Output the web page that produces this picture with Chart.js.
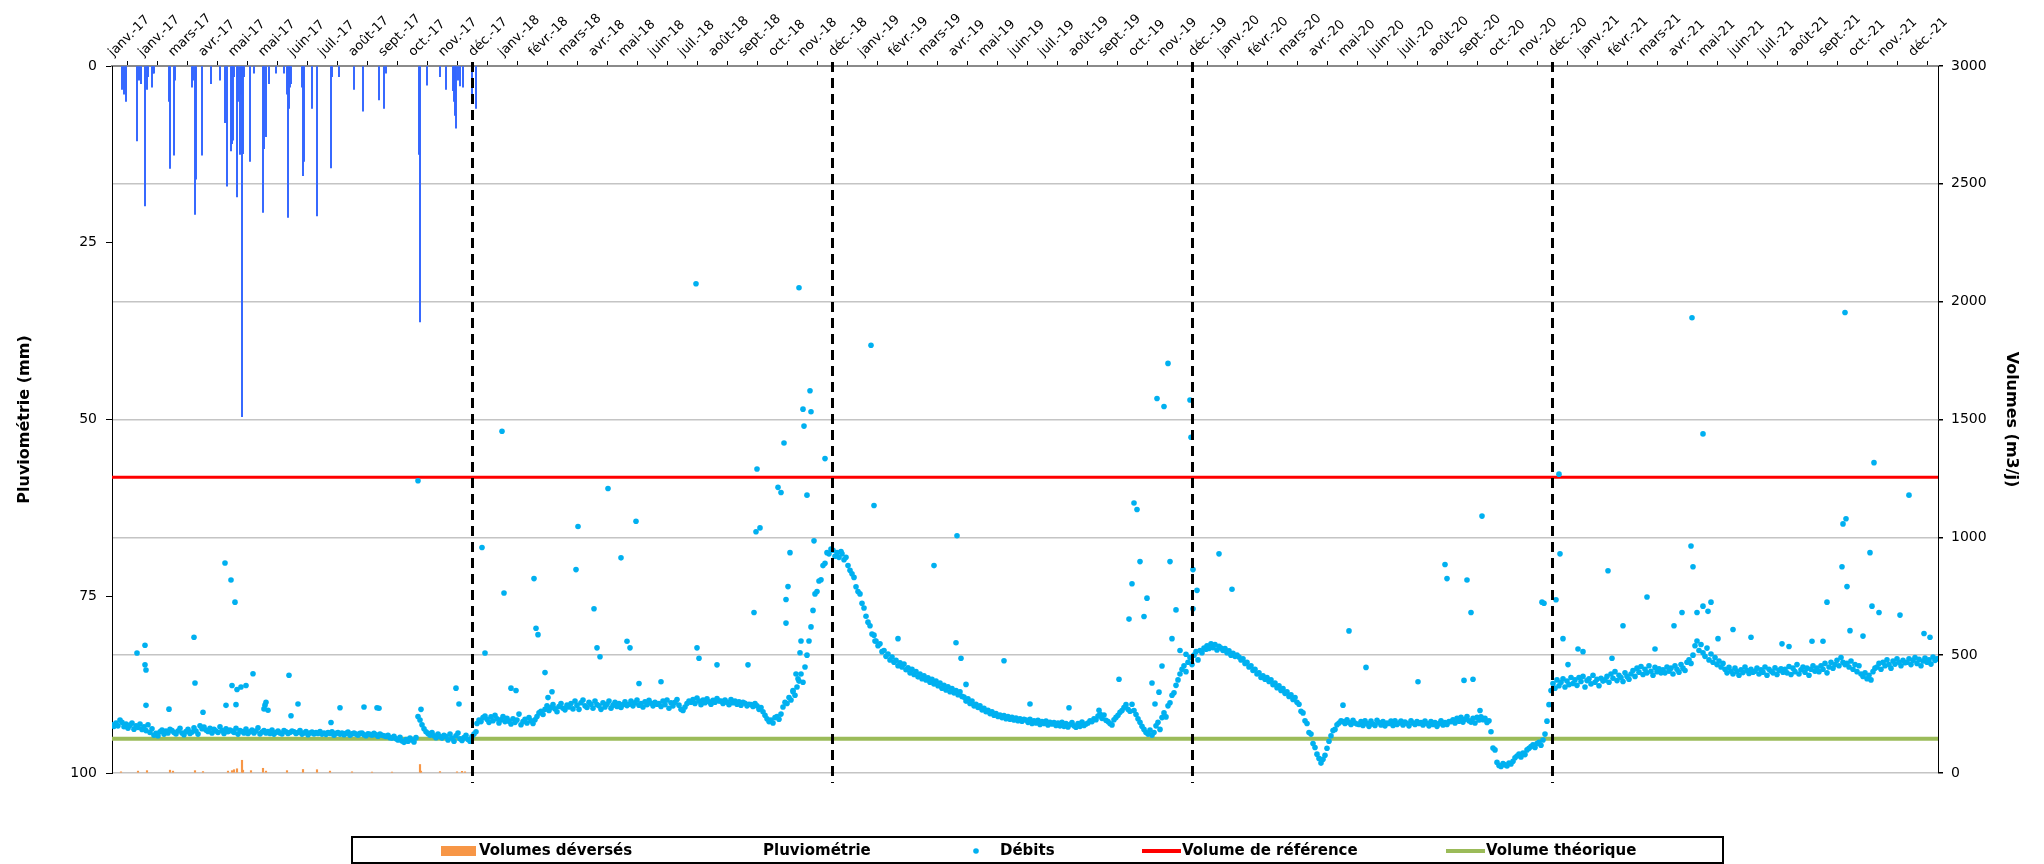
<!DOCTYPE html>
<html><head><meta charset="utf-8">
<script src="https://cdn.jsdelivr.net/npm/chart.js@4.4.1/dist/chart.umd.min.js"></script>
<style>html,body{margin:0;padding:0;background:#fff}#wrap{position:relative;width:2044px;height:864px}</style>
</head><body><div id="wrap"><canvas id="c"></canvas></div>
<script>
// ---------- DONNÉES ----------
const etiquettesMois = ['janv.-17','janv.-17','mars-17','avr.-17','mai-17','mai-17','juin-17','juil.-17','août-17','sept.-17','oct.-17','nov.-17','déc.-17',
'janv.-18','févr.-18','mars-18','avr.-18','mai-18','juin-18','juil.-18','août-18','sept.-18','oct.-18','nov.-18','déc.-18',
'janv.-19','févr.-19','mars-19','avr.-19','mai-19','juin-19','juil.-19','août-19','sept.-19','oct.-19','nov.-19','déc.-19',
'janv.-20','févr.-20','mars-20','avr.-20','mai-20','juin-20','juil.-20','août-20','sept.-20','oct.-20','nov.-20','déc.-20',
'janv.-21','févr.-21','mars-21','avr.-21','mai-21','juin-21','juil.-21','août-21','sept.-21','oct.-21','nov.-21','déc.-21'];
const pasTicksJours = 30;
const joursMax = 1826;
const separateursJours = [360, 720, 1080, 1440];

const volumeReference = 1255;
const volumeTheorique = 145;

// Débits journaliers (m3/j), un relevé tous les 2 jours à partir du début de chaque année
const debutAnnees = [0, 365, 730, 1095, 1461];
const debits2017 = [205,198,212,200,225,215,196,208,190,203,212,186,200,193,208,185,
196,180,205,172,188,160,168,158,175,182,165,178,170,185,
180,172,166,178,190,170,162,176,185,168,174,192,178,165,200,188,
195,182,176,190,170,185,178,172,196,180,168,188,175,182,
178,172,190,165,180,176,170,186,168,175,182,170,178,192,166,174,
180,170,176,168,182,165,172,178,170,166,180,175,168,172,178,
175,168,172,180,165,170,176,162,170,174,166,172,168,176,165,
170,164,172,168,175,160,168,172,165,170,162,168,174,160,166,170,
165,160,168,170,162,158,166,164,160,168,162,156,165,160,158,
155,160,150,148,156,145,140,152,136,130,142,135,148,140,132,
150,240,225,205,188,175,168,160,172,158,150,165,155,148,160,
155,140,165,148,135,158,170,145,138,150,160,142,135,155,165,175];
const debits2018 = [210,225,218,235,242,228,215,238,222,245,230,212,226,240,218,232,
220,208,230,215,225,250,205,218,228,212,235,222,210,226,
240,255,262,248,270,285,265,278,290,272,260,282,295,275,268,288,
280,295,272,305,288,270,298,310,285,278,300,292,275,305,290,
285,270,298,280,292,305,275,288,300,282,295,278,290,302,286,
292,305,285,298,310,288,295,280,302,290,308,296,285,300,292,
295,282,305,290,310,275,298,285,300,312,288,270,265,280,295,305,
300,312,295,318,305,290,310,298,315,302,292,308,300,316,305,
305,295,310,300,290,312,298,305,292,302,288,300,296,285,292,
290,282,295,285,270,278,260,245,230,218,225,212,235,240,228,250,
280,300,295,320,310,345,330,365,390,420,385,450,500,560,620,
690,760,770,815,820,880,890,935,930,950,945,920,935,915,940];
const debits2019 = [930,905,915,880,860,845,830,790,770,760,720,700,665,640,625,590,
585,560,540,548,515,520,495,505,480,492,470,478,455,468,
450,462,438,446,425,440,418,430,408,420,400,412,395,404,385,398,
378,390,370,382,360,372,352,366,345,358,340,350,332,345,325,
322,305,315,295,305,285,292,278,285,268,275,260,266,252,260,245,
252,240,246,235,244,230,240,228,236,225,233,222,230,220,228,
225,215,228,210,222,212,224,206,218,210,220,204,215,208,214,202,
212,200,215,198,210,195,206,214,200,194,210,198,216,202,208,
212,222,218,230,226,242,250,232,246,224,218,210,204,226,236,
245,258,265,278,290,270,262,292,265,248,230,215,198,185,172,165,
182,160,172,200,215,185,235,255,238,285,298,330,340,372,395,
420,440,455,430,470,490,460,500,515,480,520,510,530,525];
const debits2020 = [540,528,548,532,545,522,538,530,520,528,510,518,500,508,495,500,
492,480,485,465,470,450,455,435,440,420,425,405,412,398,
405,388,395,375,382,362,370,350,358,338,345,325,332,312,320,300,
292,262,255,222,210,172,165,125,108,80,62,42,58,75,105,
135,158,180,185,205,212,222,218,210,226,214,206,224,212,208,
206,218,202,222,210,198,220,208,202,224,214,204,218,200,212,
210,220,202,222,206,212,220,204,216,210,200,222,212,206,218,210,
214,204,220,210,200,218,206,214,198,210,222,204,214,206,218,
218,226,212,232,220,236,216,228,240,222,216,232,212,236,225,
238,226,232,214,222,175,106,98,45,32,28,40,35,30,42,38,
50,65,72,80,68,85,78,98,105,112,120,108,125,130,118,
140,165,220,290,350,380,360,395,370,385,400,365,390,375,405];
const debits2021 = [380,395,372,405,388,410,365,392,400,378,415,385,398,370,402,390,
395,410,385,420,402,430,392,415,405,388,425,410,398,
420,435,410,445,428,452,418,440,425,455,432,415,448,430,442,425,
438,425,450,432,445,420,455,440,428,460,445,435,470,480,465,
500,540,560,520,545,510,495,530,480,505,470,490,460,475,450,465,
440,425,448,432,420,445,430,415,438,426,450,435,422,440,428,
432,445,420,438,428,450,415,440,432,425,446,418,436,442,428,
440,425,452,418,445,430,460,420,438,450,428,445,415,440,455,432,
445,430,455,440,465,425,450,470,445,460,478,455,490,470,460,
465,450,475,440,460,430,455,420,410,425,400,415,395,430,445,
450,465,440,470,455,480,460,445,475,462,485,470,455,478,468,
470,485,460,478,490,465,482,455,475,488,470,480,462,492,478,485];

// Débits ponctuels élevés : [jour, m3/j]
const debitsPics = [[25,509],[33,542],[33,459],[34,437],[57,271],[82,576],[83,382],[113,891],[119,819],[123,725],[120,371],[125,354],[129,365],[134,371],[141,421],[153,288],[156,266],[177,415],[186,293],[228,277],[265,277],[306,1240],[309,270],[344,360],[347,293],[34,287],[91,258],[114,287],[124,290],[152,272],[154,300],[179,243],[219,214],[252,280],[267,275],
[370,957],[373,509],[390,1450],[392,764],[399,360],[404,350],[422,825],[424,614],[426,587],[433,426],[436,320],[440,345],[466,1046],[464,863],[482,697],[485,531],[488,493],[496,1207],[509,913],[515,559],[518,531],[524,1068],[527,380],[549,387],[584,2076],[585,531],[587,487],[605,459],[636,459],[642,681],[644,1024],[645,1290],[648,1040],[666,1212],[669,1190],[672,1400],[674,636],[674,736],[676,791],[678,935],[681,350],[687,2059],[691,1544],[692,1472],[695,1179],[698,1622],[699,1533],[702,985],[713,1334],[684,420],[686,400],[688,510],[689,560],
[759,1815],[762,1135],[763,560],[786,570],[822,880],[844,553],[845,1007],[849,487],[854,376],[892,476],[918,293],[957,277],[987,266],[1007,398],[1017,653],[1020,803],[1022,1146],[1025,1118],[1028,897],[1032,664],[1035,742],[1045,1589],[1052,1555],[1056,1738],[1058,897],[1060,570],[1064,692],[1068,520],[1074,504],[1078,1583],[1079,1425],[1081,863],[1081,697],[1040,382],[1043,293],[1047,343],[1050,454],
[1085,775],[1107,930],[1120,780],[1231,288],[1237,603],[1254,448],[1306,387],[1333,885],[1335,825],[1355,819],[1359,681],[1352,393],[1361,398],[1370,1090],[1368,265],[1430,725],[1432,720],[1447,1268],[1448,930],[1444,735],[1451,570],[1456,460],
[1466,526],[1471,515],[1496,858],[1500,487],[1511,625],[1535,747],[1543,526],[1562,625],[1570,681],[1579,963],[1580,1932],[1581,875],[1585,681],[1591,1439],[1591,708],[1596,686],[1599,725],[1606,570],[1621,609],[1639,576],[1670,548],[1677,537],[1700,559],[1711,559],[1715,725],[1730,875],[1731,1057],[1733,1954],[1734,1079],[1735,791],[1738,604],[1751,581],[1758,935],[1760,708],[1762,1317],[1767,681],[1788,670],[1797,1179],[1812,592],[1818,576]];

// Pluviométrie (mm) : [jour, mm]
const pluviometrie = [[10,3.3],[12,4],[14,5],[25,10.6],[27,2],[29,2.5],[33,19.8],[35,3.3],[36,1.5],[40,3],[41,1],[42,1],[57,5],[58,14.5],[62,12.6],[63,2],[80,3],[81,2],[83,21],[84,16],[90,12.6],[99,2.5],[108,2],[113,8],[115,17],[119,12],[120,11],[121,10.5],[122,1.5],[125,18.5],[126,5],[128,12.5],[129,4],[130,49.6],[131,12.4],[132,1.5],[138,13.5],[142,1],[151,20.7],[152,11.7],[154,10],[157,2.5],[164,1],[172,1],[175,4],[176,21.4],[177,6],[178,3],[179,2.5],[190,3],[191,15.5],[192,13.5],[200,6],[205,21.2],[219,14.4],[220,1.5],[227,1.5],[242,3.3],[251,6.4],[267,4.8],[272,6],[274,1],[307,12.5],[308,36.2],[315,2.7],[328,1.5],[334,3.3],[341,3.5],[342,5],[343,7],[344,8.8],[346,2],[348,2.8],[351,3],[360,4.3],[364,6]];

// Volumes déversés (m3/j) : [jour, m3]
const volumesDeverses = [[9,5],[26,8],[35,10],[58,12],[61,8],[83,10],[91,6],[116,8],[120,10],[122,14],[125,18],[130,54],[131,12],[139,10],[151,20],[154,8],[175,10],[191,15],[205,14],[218,8],[240,5],[260,4],[280,4],[308,36],[309,8],[328,6],[345,5],[350,7],[353,5]];

// ---------- CONSTRUCTION ----------
const annees = [debits2017, debits2018, debits2019, debits2020, debits2021];
const pointsDebits = [];
annees.forEach((arr, k) => arr.forEach((v, i) => pointsDebits.push({x: debutAnnees[k] + 2 * i, y: v})));
debitsPics.forEach(([d, v]) => pointsDebits.push({x: d, y: v}));

const FONT = '"DejaVu Sans", sans-serif';

const separateurs = {
  id: 'separateurs',
  afterDatasetsDraw(chart) {
    const {ctx, chartArea, scales} = chart;
    ctx.save();
    ctx.strokeStyle = '#000';
    ctx.lineWidth = 3;
    ctx.setLineDash([10, 6]);
    separateursJours.forEach(d => {
      const x = Math.round(scales.x.getPixelForValue(d)) + 0.5;
      ctx.beginPath();
      ctx.moveTo(x, chartArea.top - 4);
      ctx.lineTo(x, chartArea.bottom + 10);
      ctx.stroke();
    });
    ctx.restore();
  }
};

const legende = {
  id: 'legende',
  afterDraw(chart) {
    const ctx = chart.ctx;
    const ds = chart.data.datasets;
    const get = l => ds.find(d => d.label === l);
    ctx.save();
    ctx.strokeStyle = '#000';
    ctx.lineWidth = 2;
    ctx.strokeRect(352, 837, 1371, 26);
    ctx.font = 'bold 15px ' + FONT;
    ctx.textBaseline = 'middle';
    ctx.textAlign = 'left';
    const y = 851;
    let d = get('Volumes déversés');
    ctx.fillStyle = d.backgroundColor; ctx.fillRect(441, 846, 35, 10);
    ctx.fillStyle = '#000'; ctx.fillText(d.label, 479, y);
    d = get('Pluviométrie');
    ctx.fillText(d.label, 763, y);
    d = get('Débits');
    ctx.fillStyle = d.backgroundColor; ctx.beginPath(); ctx.arc(976, y, 2.8, 0, Math.PI * 2); ctx.fill();
    ctx.fillStyle = '#000'; ctx.fillText(d.label, 1000, y);
    d = get('Volume de référence');
    ctx.strokeStyle = d.borderColor; ctx.lineWidth = 4; ctx.beginPath(); ctx.moveTo(1142, y); ctx.lineTo(1181, y); ctx.stroke();
    ctx.fillText(d.label, 1182, y);
    d = get('Volume théorique');
    ctx.strokeStyle = d.borderColor; ctx.lineWidth = 4; ctx.beginPath(); ctx.moveTo(1446, y); ctx.lineTo(1485, y); ctx.stroke();
    ctx.fillText(d.label, 1486, y);
    ctx.restore();
  }
};

new Chart(document.getElementById('c'), {
  type: 'scatter',
  data: {
    datasets: [
      {type: 'scatter', label: 'Débits', data: pointsDebits, yAxisID: 'yR', backgroundColor: '#00B0F0', borderWidth: 0, pointRadius: 2.8, order: 0},
      {type: 'line', label: 'Volume de référence', data: [{x: 0, y: volumeReference}, {x: joursMax, y: volumeReference}], yAxisID: 'yR', borderColor: '#FF0000', borderWidth: 3, pointRadius: 0, order: 1},
      {type: 'line', label: 'Volume théorique', data: [{x: 0, y: volumeTheorique}, {x: joursMax, y: volumeTheorique}], yAxisID: 'yR', borderColor: '#9BBB59', borderWidth: 4, pointRadius: 0, order: 1},
      {type: 'bar', label: 'Pluviométrie', data: pluviometrie.map(([d, v]) => ({x: d, y: v})), yAxisID: 'yL', backgroundColor: '#3366FF', barThickness: 1.3, grouped: false, order: 2},
      {type: 'bar', label: 'Volumes déversés', data: volumesDeverses.map(([d, v]) => ({x: d, y: v})), yAxisID: 'yR', backgroundColor: '#F79646', barThickness: 1.5, grouped: false, order: 2}
    ]
  },
  options: {
    responsive: true,
    maintainAspectRatio: false,
    animation: false,
    layout: {padding: {left: 0, right: 0, top: 0, bottom: 91}},
    plugins: {legend: {display: false}, tooltip: {enabled: false}},
    scales: {
      x: {
        type: 'linear', position: 'top', min: 0, max: joursMax, offset: false,
        afterBuildTicks: s => { s.ticks = etiquettesMois.map((_, i) => ({value: i * pasTicksJours})); },
        afterFit: s => { s.height = 66; },
        ticks: {autoSkip: false, minRotation: 45, maxRotation: 45, padding: 1, labelOffset: 10, color: '#000',
          font: {family: FONT, size: 13}, callback: (v, i) => etiquettesMois[i]},
        grid: {drawOnChartArea: false, tickLength: 5, tickColor: '#000', tickWidth: 1},
        border: {display: true, color: '#8a8a8a', width: 2}
      },
      yL: {
        type: 'linear', position: 'left', min: 0, max: 100, reverse: true,
        afterFit: s => { s.width = 112; },
        ticks: {stepSize: 25, padding: 9, color: '#000', font: {family: FONT, size: 14}},
        grid: {drawOnChartArea: false, tickLength: 6, tickColor: '#000'},
        border: {display: true, color: '#000', width: 1},
        title: {display: true, text: 'Pluviométrie (mm)', color: '#000', font: {family: FONT, size: 16, weight: 'bold'}, padding: {top: 15, bottom: 0}}
      },
      yR: {
        type: 'linear', position: 'right', min: 0, max: 3000,
        afterFit: s => { s.width = 106; },
        ticks: {stepSize: 500, padding: 8, color: '#000', font: {family: FONT, size: 14}, callback: v => String(v)},
        grid: {drawOnChartArea: true, color: '#c4c4c4', lineWidth: 1.5, tickLength: 5, tickColor: '#000'},
        border: {display: true, color: '#000', width: 1},
        title: {display: true, text: 'Volumes (m3/j)', color: '#000', font: {family: FONT, size: 16, weight: 'bold'}, padding: {top: 23, bottom: 0}}
      }
    }
  },
  plugins: [separateurs, legende]
});
</script>
</body></html>
